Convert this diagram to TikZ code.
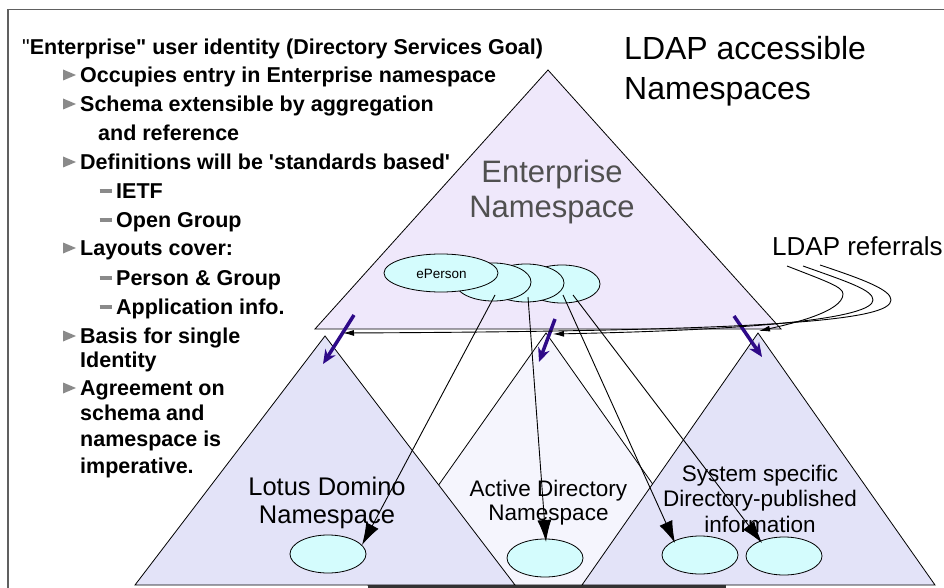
\documentclass[tikz,border=0pt]{standalone}
\usepackage{fontspec}
\setmainfont{Liberation Sans}[Ligatures=TeXOff]
\usetikzlibrary{shapes.geometric,arrows.meta}
\definecolor{entfill}{HTML}{EFE8FB}
\definecolor{subfill}{HTML}{E3E3F8}
\definecolor{adfill}{HTML}{F5F5FD}
\definecolor{ellfill}{HTML}{D4FCFD}
\definecolor{purp}{HTML}{2E0A88}
\definecolor{bulgray}{HTML}{8A8A8A}
\definecolor{textgray}{HTML}{505050}
\definecolor{framegray}{HTML}{606060}
\tikzset{
  bt/.style={anchor=base west, inner sep=0pt, font=\bfseries\fontsize{21.5}{25}\selectfont},
  ell/.style={ellipse, draw, fill=ellfill, inner sep=0pt, line width=0.8pt, minimum width=76pt, minimum height=38pt},
  tri/.style={draw, line width=0.8pt},
  refarrow/.style={draw, line width=0.9pt, -{Latex[length=11pt,width=6pt]}},
  linkarrow/.style={draw, line width=0.9pt, -{Latex[length=22pt,width=14pt]}},
  purparrow/.style={draw=purp, line width=3.5pt, -{Stealth[length=14pt,width=12pt]}},
  bullettri/.style={fill=bulgray},
  dashbar/.style={draw=bulgray, line width=3.3pt}
}
\begin{document}
\begin{tikzpicture}[x=1pt,y=-1pt]
\useasboundingbox (0,0) rectangle (944,588);
\fill[white] (0,0) rectangle (944,588);
% frame
\draw[framegray, line width=1.5pt] (8,588) -- (8,9.5) -- (944,9.5);

% Enterprise triangle
\path[tri, fill=entfill] (548,70) -- (781,329) -- (315,329) -- cycle;
% Active Directory triangle (behind)
\path[tri, fill=adfill] (546,333) -- (724,585) -- (368,585) -- cycle;
\draw[black!80, line width=3pt] (368,586.5) -- (726,586.5);
% Lotus Domino triangle
\path[tri, fill=subfill] (325,336) -- (515,585) -- (135,585) -- cycle;
% System specific triangle
\path[tri, fill=subfill] (758,333) -- (935,585) -- (582,585) -- cycle;

% ellipses in enterprise namespace
\node[ell] (e4) at (562,284) {};
\node[ell] (e3) at (526,283) {};
\node[ell] (e2) at (493,282) {};
\node[ell, minimum width=114pt] (e1) at (441,273) {};
\node[font=\fontsize{13.5}{16}\selectfont, inner sep=0pt] (eperson) at (441.5,274) {ePerson};

% ellipses in the lower namespaces
\node[ell] (L) at (328,554) {};
\node[ell] (A) at (545,558) {};
\node[ell] (S1) at (700,555) {};
\node[ell] (S2) at (784,556) {};

% texts
\node[bt] (t0) at (22,54.5) {{\mdseries"}Enterprise" user identity (Directory Services Goal)};
\node[bt] (t1) at (80,82.5) {Occupies entry in Enterprise namespace};
\node[bt] (t2) at (80,111.5) {Schema extensible by aggregation};
\node[bt] (t3) at (98,140.5) {and reference};
\node[bt] (t4) at (80,169.5) {Definitions will be 'standards based'};
\node[bt] (t5) at (116,198.5) {IETF};
\node[bt] (t6) at (116,227.5) {Open Group};
\node[bt] (t7) at (80,255.5) {Layouts cover:};
\node[bt] (t8) at (116,285.5) {Person \& Group};
\node[bt] (t9) at (116,314.5) {Application info.};
\node[bt] (t10) at (80,343.5) {Basis for single};
\node[bt] (t11) at (80,367.5) {Identity};
\node[bt] (t12) at (80,395.5) {Agreement on};
\node[bt] (t13) at (80,420.5) {schema and};
\node[bt] (t14) at (80,446.5) {namespace is};
\node[bt] (t15) at (80,473.5) {imperative.};

% bullets
\foreach \c in {75,104,162,248,336,388}{
  \fill[bullettri] (63,\c-5.5) -- (76,\c) -- (63,\c+5.5) -- cycle;
}
\foreach \c in {191,220,278,307}{
  \draw[dashbar] (99.5,\c) -- (111.5,\c);
}

% multi-line nodes: base anchor = baseline of the last line
\node[anchor=base west, inner sep=0pt, align=left, font=\fontsize{32}{40.5}\selectfont] (ldap) at (624,100) {LDAP accessible\\Namespaces};
\node[anchor=base, inner sep=0pt, align=center, text=textgray, font=\fontsize{31}{35}\selectfont] (ent) at (552,217) {Enterprise\\Namespace};
\node[anchor=base west, inner sep=0pt, font=\fontsize{26}{30}\selectfont] (refl) at (772,255) {LDAP referrals};
\node[anchor=base, inner sep=0pt, align=center, font=\fontsize{25.5}{28}\selectfont] (lotus) at (327,523) {Lotus Domino\\Namespace};
\node[anchor=base, inner sep=0pt, align=center, font=\fontsize{22.5}{24}\selectfont] (ad) at (548.5,520) {Active Directory\\Namespace};
\node[anchor=base, inner sep=0pt, align=center, font=\fontsize{22.5}{25.5}\selectfont] (sys) at (760,532) {System specific\\Directory-published\\information};

% links from enterprise entries to lower entries
\path[linkarrow] ([shift={(2,13)}]e2.center) -- ([shift={(34,-9)}]L.center);
\path[linkarrow] ([shift={(2,14)}]e3.center) -- ([shift={(1,-16)}]A.center);
\path[linkarrow] ([shift={(1,11)}]e4.center) -- ([shift={(-25,-12)}]S1.center);
\path[linkarrow] ([shift={(11,11)}]e4.center) -- ([shift={(-22,-13)}]S2.center);

% purple arrows
\coordinate (p1s) at (354,315); \coordinate (p1e) at (323,364);
\coordinate (p2s) at (555,319); \coordinate (p2e) at (539,362);
\coordinate (p3s) at (734,316); \coordinate (p3e) at (762,357);
\path[purparrow] (p1s) -- (p1e);
\path[purparrow] (p2s) -- (p2e);
\path[purparrow] (p3s) -- (p3e);

% LDAP referral curves
\coordinate (r1s) at (787,266); \coordinate (r1u) at (843,294); \coordinate (r1e) at (759,331);
\coordinate (r2s) at (803,266); \coordinate (r2u) at (873,300); \coordinate (r2e) at (553,334);
\coordinate (r3s) at (820,265); \coordinate (r3u) at (891,300); \coordinate (r3e) at (343,333);
\path[refarrow] (r1s) .. controls (828,282) and (843,287) .. (r1u) .. controls (843,312) and (790,324) .. (r1e);
\path[refarrow] (r2s) .. controls (848,282) and (873,290) .. (r2u) .. controls (873,318) and (760,330) .. (r2e);
\path[refarrow] (r3s) .. controls (865,280) and (891,290) .. (r3u) .. controls (891,320) and (780,331) .. (r3e);
\end{tikzpicture}
\end{document}
